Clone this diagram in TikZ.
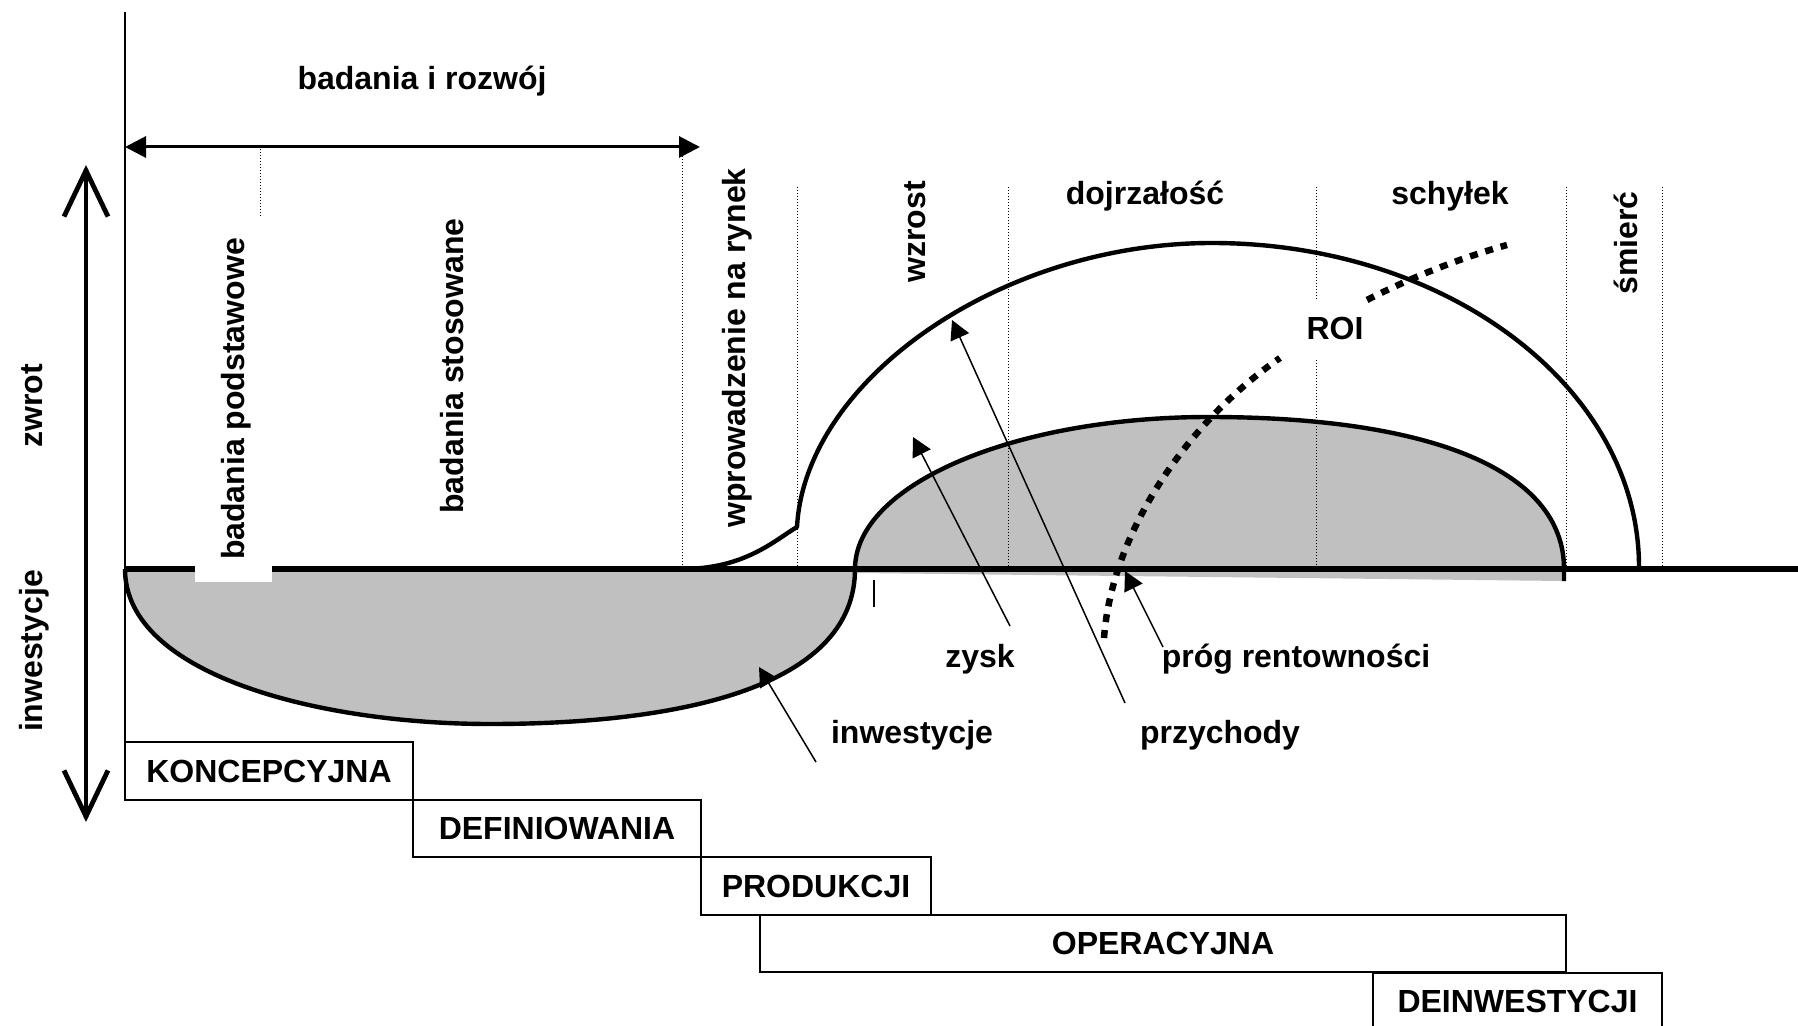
\documentclass[tikz,border=0pt]{standalone}
\usepackage{fontspec}
\setmainfont{Liberation Sans}
\usetikzlibrary{arrows.meta}
\definecolor{lobegray}{HTML}{C0C0C0}
\begin{document}
\begin{tikzpicture}[x=0.5pt,y=-0.5pt,
  lbl/.style={font=\fontsize{16}{19}\selectfont\bfseries, inner sep=0pt, anchor=base},
  vlbl/.style={lbl, rotate=90},
  divider/.style={line width=0.5pt, dash pattern=on 0.5pt off 1pt},
  curve/.style={line width=2.2pt, line join=round},
  roi/.style={line width=3.25pt, dash pattern=on 4pt off 4pt},
  pointer/.style={line width=0.75pt, -{Triangle[length=9.5pt,width=10pt]}},
  phase/.style={draw, line width=1pt, inner sep=0pt, anchor=center,
    font=\fontsize{16}{19}\selectfont\bfseries}
]
\useasboundingbox (0,0) rectangle (1798,1026);
\clip (0,0) rectangle (1798,1026);
\fill[white] (0,0) rectangle (1798,1026);

% grey areas
\fill[lobegray] (125,569) .. controls (125,675) and (320,724) .. (490,724)
  .. controls (700,724) and (855,680) .. (855,569) -- cycle;
\fill[lobegray] (855,569) .. controls (855,485) and (1013,417) .. (1209,417)
  .. controls (1430,417) and (1564,470) .. (1564,569) -- (1564,581) -- (857,573) -- cycle;

% dotted dividers
\draw[divider] (260,149) -- (260,216);
\draw[divider] (682,153) -- (682,569);
\draw[divider] (797,187) -- (797,569);
\draw[divider] (1008,187) -- (1008,569);
\draw[divider] (1316,187) -- (1316,300) (1316,360) -- (1316,569);
\draw[divider] (1566,187) -- (1566,569);
\draw[divider] (1662,187) -- (1662,569);

% base line
\draw[line width=2.75pt] (125,569) -- (1798,569);

% curves
\draw[curve] (125,569) .. controls (125,675) and (320,724) .. (490,724)
  .. controls (700,724) and (855,680) .. (855,569);
\draw[curve] (855,569) .. controls (855,485) and (1013,417) .. (1209,417)
  .. controls (1430,417) and (1564,470) .. (1564,569) -- (1564,581);
\draw[curve] (682,569) .. controls (745,569) and (775,540) .. (797,527)
  .. controls (805,380) and (1000,243) .. (1212,243)
  .. controls (1448,243) and (1639,388) .. (1639,567);
\draw[line width=0.75pt] (874,580) -- (874,607);

% white patch on the base line
\fill[white] (195,566) rectangle (272,582);

% ROI curve
\draw[roi] (1104,638) .. controls (1112,530) and (1190,420) .. (1280,358);
\draw[roi] (1367,300) .. controls (1410,278) and (1460,258) .. (1507,245);

% axes
\draw[line width=1pt] (125,12) -- (125,742);
\coordinate (rdL) at (125,147);
\coordinate (rdR) at (700,147);
\draw[line width=1.5pt, {Triangle[length=10.5pt,width=10.5pt]}-{Triangle[length=10.5pt,width=10.5pt]}] (rdL) -- (rdR);
\coordinate (vaTop) at (86,165);
\coordinate (vaBot) at (86,822);
\draw[line width=2.4pt, {Straight Barb[length=23pt,width=22pt]}-{Straight Barb[length=23pt,width=22pt]}] (vaBot) -- (vaTop);

% labels
\node[lbl] (rd) at (422,90) {badania i rozwój};
\node[lbl] (dojr) at (1145,205) {dojrzałość};
\node[lbl] (schy) at (1450,205) {schyłek};
\node[lbl] (roiL) at (1335,340) {ROI};
\node[lbl] (zysk) at (980,667) {zysk};
\node[lbl] (prog) at (1296,667) {próg rentowności};
\node[lbl] (inw) at (912,743) {inwestycje};
\node[lbl] (przy) at (1220,743) {przychody};

\node[vlbl] (bpod) at (244,399) {badania podstawowe};
\node[vlbl] (bsto) at (463,366) {badania stosowane};
\node[vlbl] (wpro) at (745,348) {wprowadzenie na rynek};
\node[vlbl] (wzr) at (925,232) {wzrost};
\node[vlbl] (smie) at (1637,243) {śmierć};
\node[vlbl] (zwrot) at (42,406) {zwrot};
\node[vlbl] (inwv) at (42,651) {inwestycje};

% pointers
\coordinate (przyTail) at (1125,703);
\coordinate (przyTip) at (952,320);
\coordinate (zyskTail) at (1010,626);
\coordinate (zyskTip) at (913,437);
\coordinate (progTail) at (1163,647);
\coordinate (progTip) at (1125,571);
\coordinate (inwTail) at (816,762);
\coordinate (inwTip) at (759,667);
\draw[pointer] (przyTail) -- (przyTip);
\draw[pointer] (zyskTail) -- (zyskTip);
\draw[pointer] (progTail) -- (progTip);
\draw[pointer] (inwTail) -- (inwTip);

% phases
\node[phase, minimum width=144pt, minimum height=29pt] (konc) at (269,771) {KONCEPCYJNA};
\node[phase, minimum width=144pt, minimum height=28.5pt] (defi) at (557,828.5) {DEFINIOWANIA};
\node[phase, minimum width=115pt, minimum height=29pt] (prod) at (816,886) {PRODUKCJI};
\node[phase, minimum width=403pt, minimum height=28.5pt] (oper) at (1163,943.5) {OPERACYJNA};
\node[phase, minimum width=144.5pt, minimum height=29pt] (dein) at (1517.5,1001.5) {DEINWESTYCJI};
\end{tikzpicture}
\end{document}
